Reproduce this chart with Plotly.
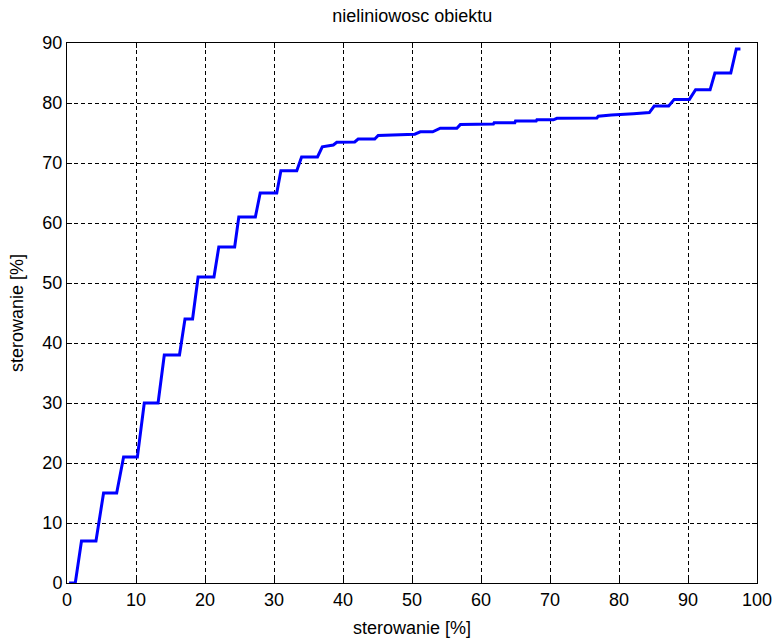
import plotly.graph_objects as go

# step curve vertices
x_vals = [0.3, 1.2, 2.1, 4.2, 5.3, 7.2, 8.2, 10.2, 11.2, 13.2, 14.1, 16.3, 17.1, 18.2,
          19.0, 21.3, 22.0, 24.3, 24.9, 27.3, 28.0, 30.4, 31.0, 33.3, 34.0, 36.3,
          37.0, 38.6, 39.1, 41.7, 42.2, 44.6, 45.1, 50.4, 51.2, 53.0, 54.1, 56.5,
          57.0, 61.8, 61.9, 64.9, 65.0, 68.0, 68.1, 70.5, 71.0, 76.8, 77.0, 78.9,
          82.1, 84.4, 85.1, 87.2, 88.0, 90.2, 91.1, 93.2, 93.9, 96.2, 97.0, 97.6]
y_vals = [0, 0, 7, 7, 15, 15, 21, 21, 30, 30, 38, 38, 44, 44,
          51, 51, 56, 56, 61, 61, 65, 65, 68.7, 68.7, 71, 71,
          72.7, 73, 73.45, 73.5, 74, 74, 74.6, 74.8, 75.2, 75.2, 75.8, 75.8,
          76.4, 76.5, 76.7, 76.7, 77.0, 77.0, 77.2, 77.2, 77.45, 77.5, 77.8, 78.0,
          78.2, 78.4, 79.5, 79.5, 80.6, 80.6, 82.2, 82.2, 85, 85, 89, 89]

x_ticks = [0, 10, 20, 30, 40, 50, 60, 70, 80, 90, 100]
y_ticks = [0, 10, 20, 30, 40, 50, 60, 70, 80, 90]

title_text = "nieliniowosc obiektu"
x_label = "sterowanie [%]"
y_label = "sterowanie [%]"

FONT = dict(family="Liberation Sans, Arial, sans-serif", size=18, color="black")

fig = go.Figure()
fig.add_trace(go.Scatter(x=x_vals, y=y_vals, mode="lines",
                         line=dict(color="#0000FF", width=3), showlegend=False))

axis_common = dict(
    showline=True, linecolor="black", linewidth=1, mirror="ticks",
    ticks="inside", ticklen=5, tickcolor="black", tickwidth=1,
    showgrid=True, gridcolor="black", gridwidth=1, griddash="4px,3px",
    zeroline=False, tickfont=FONT, ticklabeloverflow="allow", automargin=False,
)

fig.update_layout(
    width=772, height=642,
    margin=dict(l=67, r=15, t=43, b=59),
    paper_bgcolor="white", plot_bgcolor="white",
    font=FONT,
    title=dict(text=title_text, x=0.534, xanchor="center", y=0.975, yanchor="middle",
               font=FONT),
    xaxis=dict(range=[0, 100], tickvals=x_ticks, ticktext=[str(v) for v in x_ticks],
               title=dict(text=x_label, font=FONT, standoff=12), **axis_common),
    yaxis=dict(range=[0, 90], tickvals=y_ticks, ticktext=[str(v) for v in y_ticks],
               title=dict(text=y_label, font=FONT, standoff=14), **axis_common),
)

fig.write_html("out.html")
